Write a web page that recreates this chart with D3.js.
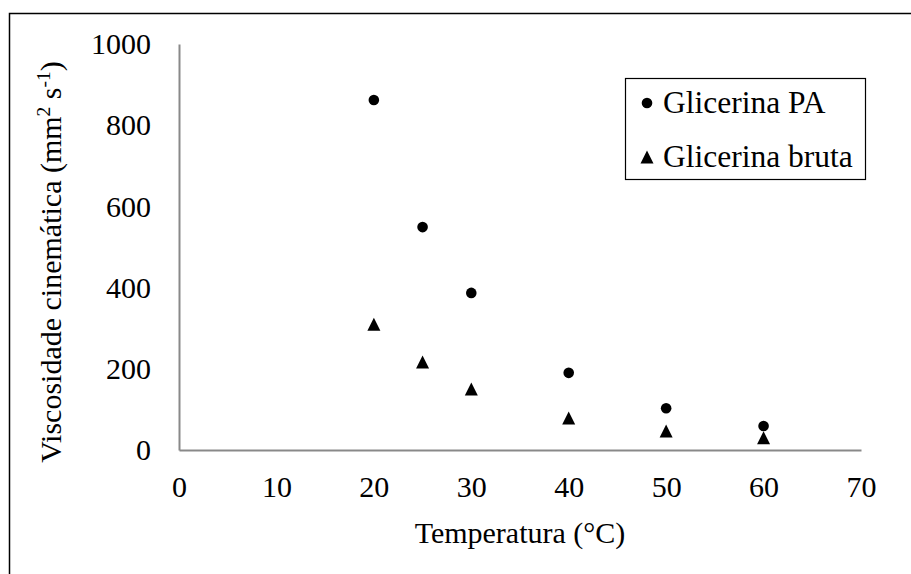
<!DOCTYPE html>
<html>
<head>
<meta charset="utf-8">
<script src="https://cdn.jsdelivr.net/npm/d3@7"></script>
<style>
  body { margin: 0; background: #fff; }
  svg { display: block; }
  text { font-family: "Liberation Serif", "Times New Roman", serif; fill: #000; }
</style>
</head>
<body>
<div id="chart"></div>
<script>
// temperatures (°C)
var temps = [20, 25, 30, 40, 50, 60];
// kinematic viscosity (mm2 s-1)
var glicerinaPA = [862, 549, 387, 190, 103, 59];
var glicerinaBruta = [310, 217, 150, 79, 47, 30];
var seriesNames = ["Glicerina PA", "Glicerina bruta"];
var xTicks = [0, 10, 20, 30, 40, 50, 60, 70];
var yTicks = [0, 200, 400, 600, 800, 1000];

var W = 911, H = 574;
var FONT = 30;
var AXIS_COLOR = "#898989";

var svg = d3.select("#chart").append("svg")
  .attr("width", W)
  .attr("height", H);

// outer chart frame (right/bottom edges fall outside the picture)
svg.append("rect")
  .attr("x", 9.5).attr("y", 13.5)
  .attr("width", 940).attr("height", 600)
  .attr("fill", "none")
  .attr("stroke", "#000")
  .attr("stroke-width", 1.5);

var x = d3.scaleLinear().domain([0, 70]).range([179, 861]);
var y = d3.scaleLinear().domain([0, 1000]).range([450, 44]);

//////////////////////////////////
// axes
var xAxis = svg.append("g")
  .attr("transform", "translate(0,450)")
  .call(d3.axisBottom(x).tickValues(xTicks).tickFormat(d3.format("d"))
    .tickSize(0).tickPadding(26));
var yAxis = svg.append("g")
  .attr("transform", "translate(179,0)")
  .call(d3.axisLeft(y).tickValues(yTicks).tickFormat(d3.format("d"))
    .tickSize(0).tickPadding(28));

[xAxis, yAxis].forEach(function(a) {
  a.attr("font-family", null).attr("font-size", null);
  a.select(".domain").attr("stroke", AXIS_COLOR).attr("stroke-width", 2);
  a.selectAll("text")
    .style("font-family", "'Liberation Serif', 'Times New Roman', serif")
    .style("font-size", FONT + "px")
    .attr("fill", "#000");
});

// axis titles
svg.append("text")
  .attr("x", (x.range()[0] + x.range()[1]) / 2)
  .attr("y", 543)
  .attr("text-anchor", "middle")
  .attr("font-size", FONT)
  .text("Temperatura (°C)");

var yt = svg.append("text")
  .attr("transform", "translate(61,262) rotate(-90)")
  .attr("text-anchor", "middle")
  .attr("font-size", FONT);
yt.append("tspan").text("Viscosidade cinemática (mm");
yt.append("tspan").attr("font-size", FONT * 0.65).attr("dy", -11).text("2");
yt.append("tspan").attr("dy", 11).text(" s");
yt.append("tspan").attr("font-size", FONT * 0.65).attr("dy", -11).text("-1");
yt.append("tspan").attr("dy", 11).text(")");

//////////////////////////////////
// markers
var circleSym = d3.symbol().type(d3.symbolCircle).size(Math.PI * 5.3 * 5.3);
var triPath = "M 0,-6.5 L 6.5,6.5 L -6.5,6.5 Z";

svg.append("g").selectAll("path")
  .data(temps.map(function(t, i) { return [t, glicerinaPA[i]]; }))
  .enter().append("path")
  .attr("d", circleSym)
  .attr("fill", "#000")
  .attr("transform", function(d) { return "translate(" + x(d[0]) + "," + y(d[1]) + ")"; });

svg.append("g").selectAll("path")
  .data(temps.map(function(t, i) { return [t, glicerinaBruta[i]]; }))
  .enter().append("path")
  .attr("d", triPath)
  .attr("fill", "#000")
  .attr("transform", function(d) { return "translate(" + x(d[0]) + "," + y(d[1]) + ")"; });

//////////////////////////////////
// legend
var lg = svg.append("g");
lg.append("rect")
  .attr("x", 625.5).attr("y", 78.5)
  .attr("width", 240).attr("height", 101)
  .attr("fill", "#fff")
  .attr("stroke", "#000")
  .attr("stroke-width", 1.2);
lg.append("path").attr("d", circleSym).attr("fill", "#000")
  .attr("transform", "translate(647,103)");
lg.append("path").attr("d", triPath).attr("fill", "#000")
  .attr("transform", "translate(647,157)");
lg.append("text").attr("x", 663).attr("y", 113).attr("font-size", 31.5).text(seriesNames[0]);
lg.append("text").attr("x", 663).attr("y", 167).attr("font-size", 31.5).text(seriesNames[1]);
</script>
</body>
</html>
